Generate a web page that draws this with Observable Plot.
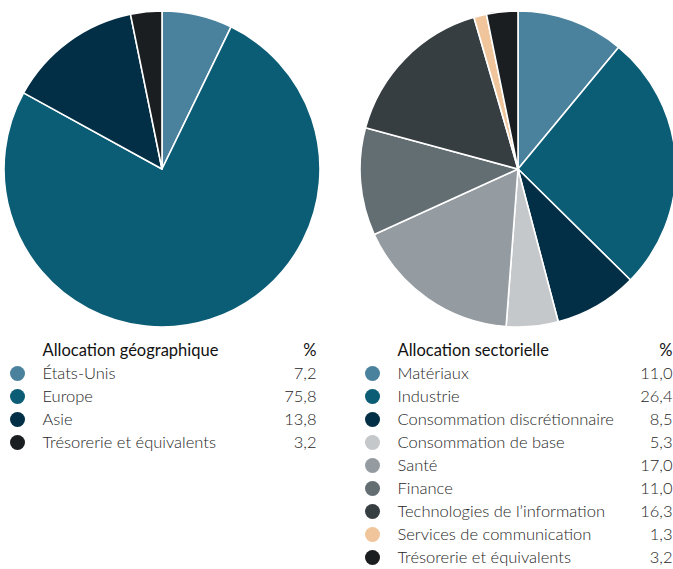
<!DOCTYPE html>
<html>
<head>
<meta charset="utf-8">
<script src="https://cdn.jsdelivr.net/npm/d3@7"></script>
<script src="https://cdn.jsdelivr.net/npm/@observablehq/plot@0.6"></script>
<style>
  html, body { margin: 0; padding: 0; background: #fff; }
  #chart { width: 673px; height: 569px; overflow: hidden; }
</style>
</head>
<body>
<div id="chart"></div>
<script>
// ---- data ----
const geoTitle = "Allocation géographique";
const geoLabels = ["États-Unis", "Europe", "Asie", "Trésorerie et équivalents"];
const geoValues = [7.2, 75.8, 13.8, 3.2];
const geoColors = ["#4a829e", "#0b5c75", "#022f45", "#1a1e21"];

const secTitle = "Allocation sectorielle";
const secLabels = ["Matériaux", "Industrie", "Consommation discrétionnaire", "Consommation de base", "Santé", "Finance", "Technologies de l’information", "Services de communication", "Trésorerie et équivalents "];
const secValues = [11.0, 26.4, 8.5, 5.3, 17.0, 11.0, 16.3, 1.3, 3.2];
const secColors = ["#4a829e", "#0b5c75", "#022f45", "#c4c8cb", "#959ca1", "#636e73", "#373e42", "#f0c59b", "#1a1e21"];

const pctHeader = "%";

// ---- layout ----
const W = 673, H = 569;
const panels = [
  {title: geoTitle, labels: geoLabels, values: geoValues, cx: 162, left: 0},
  {title: secTitle, labels: secLabels, values: secValues, cx: 518, left: 355}
];
const R = 158, CY = 169;
const headerY = 350, rowY0 = 373, rowStep = 23;
const FS = 16.5;

const rows = [];
panels.forEach((p, pi) => {
  p.labels.forEach((l, i) => rows.push({panel: pi, label: l, value: p.values[i], i}));
});
const fmt = v => v.toFixed(1).replace(".", ",");

const colorDomain = [...geoLabels.map(l => "g:" + l), ...secLabels.map(l => "s:" + l)];
const colorRange = [...geoColors, ...secColors];
const key = r => (r.panel === 0 ? "g:" : "s:") + r.label;

function pieMark(index, scales, values, dimensions, context) {
  const g = d3.create("svg:g");
  panels.forEach((p, pi) => {
    const data = rows.filter(r => r.panel === pi);
    const arcs = d3.pie().sort(null).value(d => d.value)(data);
    const arc = d3.arc().innerRadius(0).outerRadius(R);
    g.append("g")
      .attr("transform", `translate(${scales.x(p.cx)},${scales.y(CY)})`)
      .selectAll("path")
      .data(arcs)
      .join("path")
      .attr("d", arc)
      .attr("fill", d => scales.color(key(d.data)))
      .attr("stroke", "#fff")
      .attr("stroke-width", 1.6)
      .attr("stroke-linejoin", "round");
  });
  return g.node();
}

const plot = Plot.plot({
  width: W,
  height: H,
  margin: 0,
  x: {type: "linear", domain: [0, W], range: [0, W], axis: null},
  y: {type: "linear", domain: [0, H], range: [0, H], axis: null},
  color: {type: "ordinal", domain: colorDomain, range: colorRange},
  style: {fontFamily: "Lato, 'Noto Sans', sans-serif", background: "#fff"},
  marks: [
    pieMark,
    Plot.dot(rows, {
      x: r => panels[r.panel].left + 17,
      y: r => rowY0 + r.i * rowStep,
      r: 7.5,
      fill: r => key(r),
      stroke: null
    }),
    Plot.text(rows, {
      x: r => panels[r.panel].left + 42,
      y: r => rowY0 + r.i * rowStep,
      text: "label",
      textAnchor: "start",
      fontSize: FS,
      fontWeight: 300,
      fill: "#262626"
    }),
    Plot.text(rows, {
      x: r => panels[r.panel].left + (r.panel === 0 ? 316 : 317),
      y: r => rowY0 + r.i * rowStep,
      text: r => fmt(r.value),
      textAnchor: "end",
      fontSize: FS,
      fontWeight: 300,
      fill: "#262626"
    }),
    Plot.text(panels, {
      x: p => p.left + 42,
      y: headerY,
      text: "title",
      textAnchor: "start",
      fontSize: FS,
      fontWeight: 400,
      fill: "#111"
    }),
    Plot.text(panels, {
      x: p => p.left + (p.left === 0 ? 316 : 317),
      y: headerY,
      text: () => pctHeader,
      textAnchor: "end",
      fontSize: FS,
      fontWeight: 400,
      fill: "#111"
    })
  ]
});
document.getElementById("chart").appendChild(plot);
</script>
</body>
</html>
